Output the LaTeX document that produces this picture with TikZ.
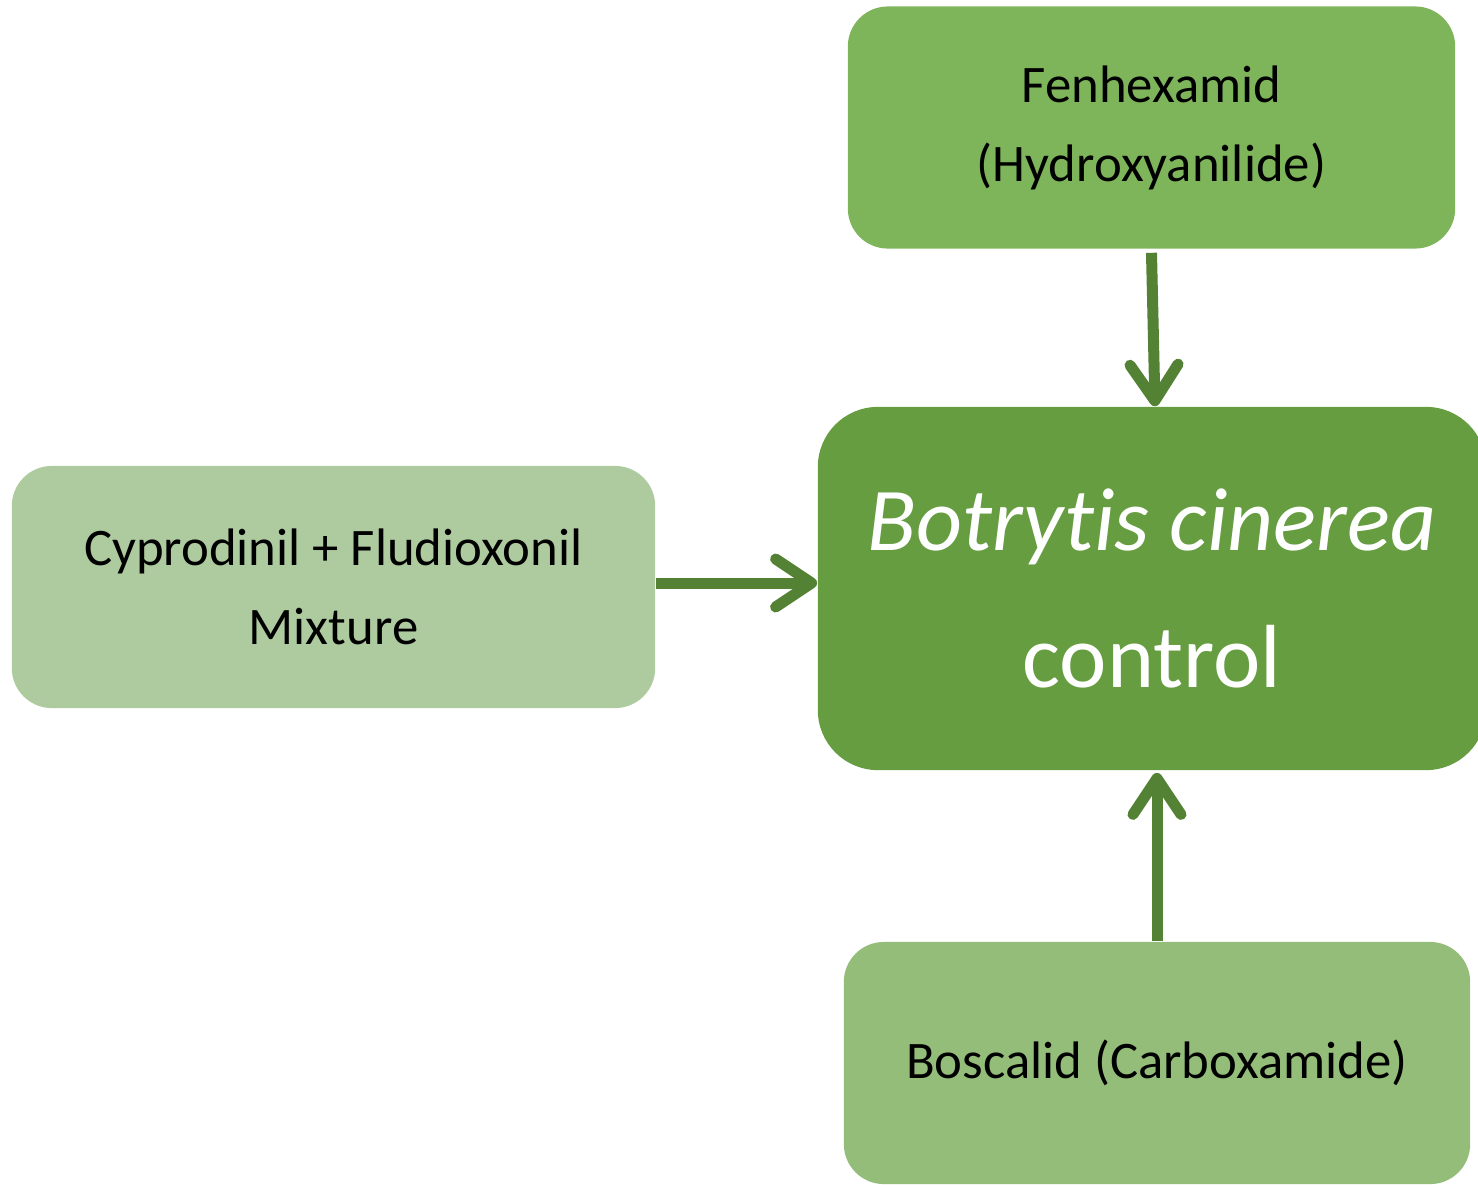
\documentclass[tikz,border=0pt]{standalone}
\usepackage{fontspec}
\setmainfont{Carlito}[Ligatures=NoCommon]
\usetikzlibrary{arrows.meta}
\definecolor{fenfill}{HTML}{7EB55A}
\definecolor{botfill}{HTML}{669D41}
\definecolor{cypfill}{HTML}{ADCB9F}
\definecolor{bosfill}{HTML}{93BD79}
\definecolor{arrowgreen}{HTML}{548235}
\begin{document}
\begin{tikzpicture}[x=0.01cm,y=-0.01cm,
  agent/.style={rounded corners=0.4cm, inner sep=0pt, align=center,
    minimum height=2.42cm, font=\fontsize{15}{22.5}\selectfont},
  feed/.style={draw=arrowgreen, line width=1.1mm,
    -{Straight Barb[length=3.6mm,width=4.8mm,line cap=round,line join=round]}}]
  \useasboundingbox (0,0) rectangle (1478,1184);
  \node[agent, fill=fenfill, minimum width=6.07cm] (fen) at (1151.5,127.5) {Fenhexamid\\(Hydroxyanilide)};
  \node[agent, fill=botfill, minimum width=6.68cm, minimum height=3.63cm, rounded corners=0.6cm,
    text=white, font=\fontsize{25.5}{39}\selectfont] (bot) at (1152,588.5) {\textit{Botrytis cinerea}\\control};
  \node[agent, fill=cypfill, minimum width=6.43cm] (cyp) at (333.5,587) {Cyprodinil + Fludioxonil\\Mixture};
  \node[agent, fill=bosfill, minimum width=6.26cm] (bos) at (1157,1063) {Boscalid (Carboxamide)};
  \draw[feed] ([yshift=-1pt]fen.south) -- ([xshift=0.85pt]bot.north);
  \draw[feed] (cyp.east |- 0,583) -- (bot.west |- 0,583);
  \draw[feed] (bos.north) -- ([yshift=-0.6pt]bot.south -| bos.north);
\end{tikzpicture}
\end{document}
